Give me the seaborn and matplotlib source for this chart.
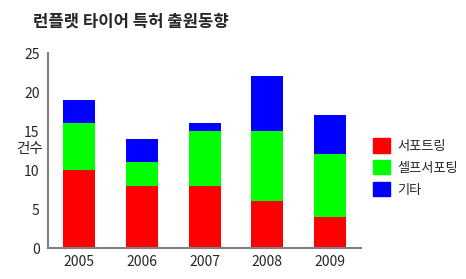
import matplotlib
matplotlib.use("Agg")
import matplotlib.pyplot as plt
import matplotlib.patches as mpatches
import numpy as np
import pandas as pd
import seaborn as sns

years = ["2005", "2006", "2007", "2008", "2009"]
support_ring = [10, 8, 8, 6, 4]
self_support = [6, 3, 7, 9, 8]
others = [3, 3, 1, 7, 5]
series_names = ["서포트링", "셀프서포팅", "기타"]
colors = ["#FF0000", "#00FF00", "#0000FF"]
title = "런플랫 타이어 특허 출원동향"
ylabel = "건수"

sns.set_style("white")
plt.rcParams['font.family'] = ['Noto Sans CJK KR', 'DejaVu Sans']

fig = plt.figure(figsize=(4.66, 2.79), dpi=100)
ax = fig.add_axes([0.103, 0.111, 0.672, 0.699])

df = pd.DataFrame({"year": years, "a": support_ring, "b": self_support, "c": others})
bottom = np.zeros(len(years))
for col, c in zip(["a", "b", "c"], colors):
    sns.barplot(data=df, x="year", y=col, color=c, bottom=bottom, width=0.51,
                saturation=1, linewidth=0, ax=ax, order=years)
    bottom = bottom + df[col].values

ax.set_xlim(-0.5, len(years) - 0.5)
ax.set_ylim(0, 25)
ax.set_yticks([0, 5, 10, 15, 20, 25])
ax.set_xticks(range(len(years)))
ax.set_xticklabels(years)
ax.set_xticks(np.arange(-0.5, len(years), 1.0), minor=True)
ax.tick_params(axis='x', which='major', length=0, pad=5, labelsize=10)
ax.tick_params(axis='x', which='minor', length=7, width=1, direction='inout', color='#555555')
ax.tick_params(axis='y', length=6, width=1, direction='inout', color='#555555', labelsize=10, pad=3)
ax.set_xlabel("")
ax.set_ylabel("")
for s in ["top", "right"]:
    ax.spines[s].set_visible(False)
for s in ["left", "bottom"]:
    ax.spines[s].set_color("#808080")
    ax.spines[s].set_linewidth(1.5)

fig.text(16 / 466, 1 - 149 / 279, ylabel, fontsize=10.5, va='center', ha='left')
fig.text(33 / 466, 1 - 22 / 279, title, fontsize=12, fontweight='bold', va='center', ha='left')

handles = [mpatches.Patch(color=c, label=n) for c, n in zip(colors, series_names)]
fig.legend(handles=handles, loc='center left', bbox_to_anchor=(0.775, 0.40), frameon=False,
           fontsize=9.5, handlelength=1.3, handleheight=1.3, handletextpad=0.55, labelspacing=0.55)

fig.savefig("out.png", dpi=100)
